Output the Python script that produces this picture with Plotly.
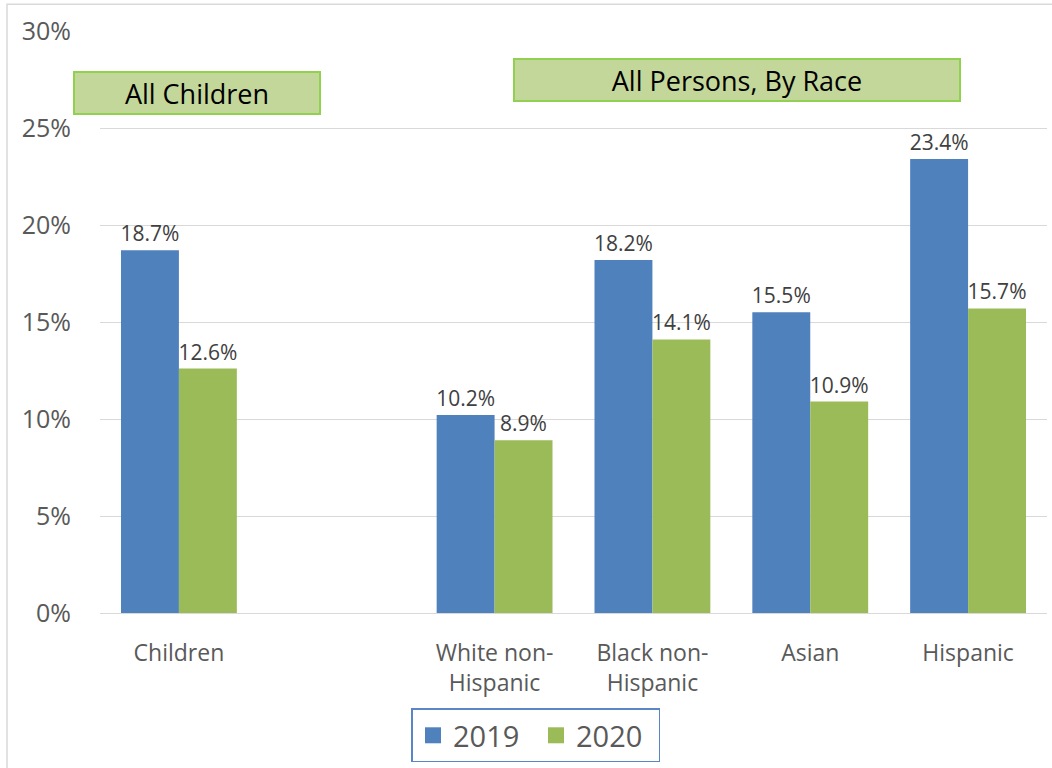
import plotly.graph_objects as go

# Poverty rates by group (percent)
categories = ["Children", " ", "White non-<br>Hispanic", "Black non-<br>Hispanic", "Asian", "Hispanic"]
rate_2019 = [18.7, None, 10.2, 18.2, 15.5, 23.4]
rate_2020 = [12.6, None, 8.9, 14.1, 10.9, 15.7]
series_names = ["2019", "2020"]
y_ticks = [0, 5, 10, 15, 20, 25, 30]
y_tick_labels = [f"{v}%" for v in y_ticks]

BLUE = "#4f81bd"
GREEN = "#9bbb59"
FONT = "Open Sans"

fig = go.Figure()
for name, vals, color in [(series_names[0], rate_2019, BLUE), (series_names[1], rate_2020, GREEN)]:
    fig.add_trace(go.Bar(
        x=categories, y=vals, name=name, marker_color=color, marker_line_width=0,
        texttemplate="%{y:.1f}%", textposition="outside", cliponaxis=False,
        textfont=dict(family=FONT, size=21, color="#404040"),
        constraintext="none", showlegend=False,
    ))
    # legend entry with a larger square swatch
    fig.add_trace(go.Scatter(
        x=[None], y=[None], mode="markers", name=name,
        marker=dict(symbol="square", size=16, color=color),
    ))

fig.update_layout(
    width=1052, height=768,
    margin=dict(l=100, r=5, t=31, b=152),
    paper_bgcolor="white", plot_bgcolor="white",
    barmode="group", bargap=0.266, bargroupgap=0,
    font=dict(family=FONT, color="#595959"),
    legend=dict(
        orientation="h", x=0.4604, xanchor="center", y=-0.164, yanchor="top",
        bordercolor="#5b86c5", borderwidth=1.5,
        font=dict(family=FONT, size=29, color="#595959"),
        itemwidth=30, entrywidth=78,
    ),
    showlegend=True,
)

fig.update_xaxes(
    type="category", categoryorder="array", categoryarray=categories,
    showgrid=False, showline=True, linecolor="#d9d9d9", linewidth=1,
    tickfont=dict(family=FONT, size=23, color="#595959"),
    ticks="", ticklabelstandoff=19,
)
fig.update_yaxes(
    range=[0, 30], tickmode="array", tickvals=y_ticks, ticktext=y_tick_labels,
    showgrid=True, gridcolor="#d9d9d9", gridwidth=1,
    zeroline=True, zerolinecolor="#d9d9d9", zerolinewidth=1,
    tickfont=dict(family=FONT, size=25, color="#595959"),
    ticks="", ticklabelstandoff=28,
)

# light outer frame
fig.add_shape(type="rect", xref="paper", yref="paper",
              x0=-0.0982, x1=1.2, y0=-0.5, y1=1.046,
              line=dict(color="#d9d9d9", width=1.5), fillcolor="rgba(0,0,0,0)", layer="below")

# group header boxes
box_style = dict(xref="paper", yref="paper", showarrow=False,
                 bgcolor="#c4d79b", bordercolor="#92d050", borderwidth=2, borderpad=0,
                 font=dict(family=FONT, size=27, color="#000000"))
fig.add_annotation(text="All Children", x=0.1024, y=0.894, width=244, height=40,
                   xanchor="center", yanchor="middle", **box_style)
fig.add_annotation(text="All Persons, By Race", x=0.6727, y=0.9162, width=444, height=40,
                   xanchor="center", yanchor="middle", **box_style)

fig.write_html("out.html")
